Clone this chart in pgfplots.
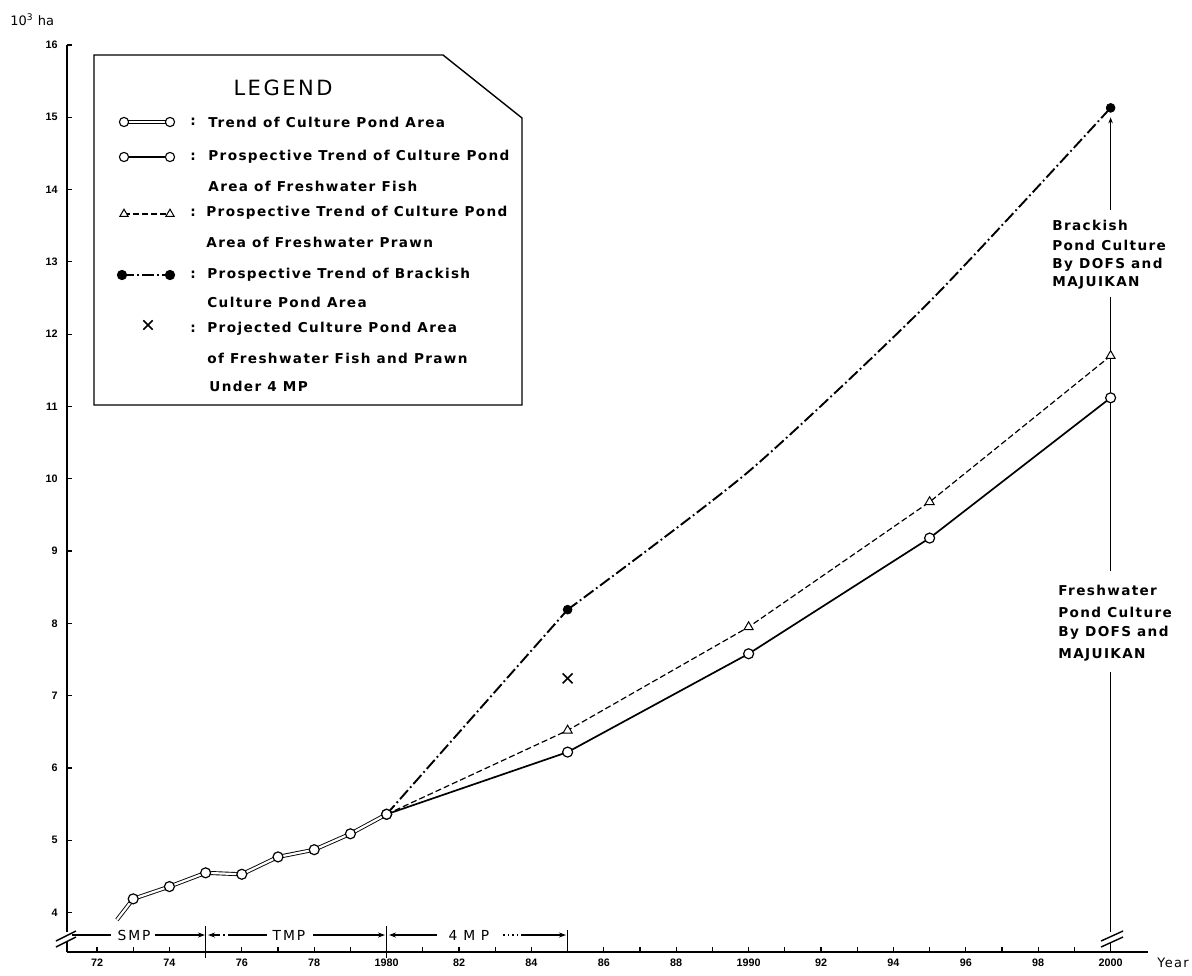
\documentclass[border=0pt]{standalone}
\usepackage{fontspec}
\setmainfont{DejaVu Sans}
\usepackage{pgfplots}
\pgfplotsset{compat=1.18}
\usepackage{pgfplotstable}
\usetikzlibrary{arrows.meta}
\newfontfamily\lgf[LetterSpace=10]{DejaVu Sans}
\newfontfamily\ttlf[LetterSpace=12]{DejaVu Sans}
\newfontfamily\perf[LetterSpace=14]{DejaVu Sans}
\newfontfamily\tkf{Liberation Sans}

\pgfplotstableread{
x y
1972.55 3.90
1973 4.19
1974 4.36
1975 4.55
1976 4.53
1977 4.77
1978 4.87
1979 5.09
1980 5.36
}\trend

\pgfplotstableread{
x y
1980 5.36
1985 6.22
1990 7.58
1995 9.18
2000 11.12
}\fish

\pgfplotstableread{
x y
1980 5.36
1985 6.52
1990 7.95
1995 9.68
2000 11.70
}\prawn

\pgfplotstableread{
x y
1980 5.36
1985 8.19
}\brackA

\pgfplotstableread{
x y
1985 8.19
1990 10.10
1995 12.45
2000 15.13
}\brackB

\begin{document}
\begin{tikzpicture}
\useasboundingbox (0,0) rectangle (596pt,487.5pt);
% ---------------- main axis ----------------
\begin{axis}[
  scale only axis, at={(33.5pt,11.5pt)}, anchor=south west,
  width=540.5pt, height=453.5pt,
  xmin=1971.171, xmax=2001.033, ymin=3.455, ymax=16,
  axis x line*=bottom, axis y line*=left,
  axis line style={line width=0.9pt, -},
  xtick={1972,1974,...,2000},
  xticklabels={72,74,76,78,1980,82,84,86,88,1990,92,94,96,98,2000},
  minor xtick={1973,1975,...,1999},
  ytick={4,5,...,16},
  yticklabels={4,5,6,7,8,9,10,11,12,13,14,15,16},
  tick align=inside, major tick length=2.5pt, minor tick length=2.5pt,
  tick style={line width=0.6pt, black},
  tick label style={font=\tkf\bfseries\fontsize{5.4}{6}\selectfont},
  xticklabel style={inner sep=0pt, anchor=north, yshift=-3.2pt},
  yticklabel style={inner sep=0pt, anchor=east, xshift=-4.5pt},
  clip=false,
]
% prospective brackish (dash-dot)
\addplot[black, line width=0.95pt, dash pattern=on 6pt off 1.6pt on 0.9pt off 1.6pt] table {\brackA};
\addplot[black, line width=0.95pt, smooth, tension=0.4, dash pattern=on 6pt off 1.6pt on 0.9pt off 1.6pt] table {\brackB};
\addplot[only marks, mark=*, mark size=2.2pt, mark indices={1,4}, mark options={fill=black, draw=black}] table {\brackB};
% prawn (dashed, triangles)
\addplot[black, line width=0.6pt, dash pattern=on 3pt off 1.5pt, mark=triangle*, mark size=2.6pt,
  mark indices={2,3,4,5}, mark options={solid, fill=white, draw=black, line width=0.5pt}] table {\prawn};
% fish (solid, circles)
\addplot[black, line width=0.85pt, mark=*, mark size=2.5pt,
  mark options={solid, fill=white, draw=black, line width=0.6pt}] table {\fish};
% projected X
\addplot[only marks, mark=x, mark size=3.5pt, mark options={line width=0.8pt, black}] coordinates {(1985,7.24)};
% trend of culture pond area (double line)
\addplot[black, line width=0.45pt, double=white, double distance=1.1pt] table {\trend};
\addplot[only marks, mark=*, mark size=2.5pt, mark indices={2,3,4,5,6,7,8,9}, mark options={fill=white, draw=black, line width=0.6pt}]
  table {\trend};
% vertical annotation line at 2000
\draw[line width=0.7pt, -{Stealth[length=3pt,width=2.2pt]}] (axis cs:2000,13.72) -- (axis cs:2000,15.0);
\draw[line width=0.7pt] (axis cs:2000,12.52) -- (axis cs:2000,8.72);
\draw[line width=0.7pt] (axis cs:2000,7.33) -- (axis cs:2000,3.455);
\end{axis}
% ---------------- overlay (pixel coordinates) ----------------
\begin{axis}[
  scale only axis, at={(0,0)}, anchor=south west,
  width=596pt, height=487.5pt,
  xmin=0, xmax=1192, ymin=0, ymax=975, y dir=reverse,
  hide axis, clip=false,
]
% axis breaks
\fill[white] (60,932) rectangle (75,942);
\draw[line width=0.7pt] (56,941) -- (76,931);
\draw[line width=0.7pt] (56,947) -- (76,937);
\fill[white] (1105,932) rectangle (1119,942);
\draw[line width=0.7pt] (1101,941) -- (1123,931);
\draw[line width=0.7pt] (1101,947) -- (1123,937);
% period markers
\draw[line width=0.6pt] (72,935) -- (111,935);
\node[font=\perf\fontsize{6.9}{8}\selectfont] at (134,935) {SMP};
\draw[line width=0.6pt, -{Stealth[length=3.5pt,width=2.5pt]}] (155,935) -- (205,935);
\draw[line width=0.8pt] (205.6,926) -- (205.6,958);
\draw[line width=0.6pt, {Stealth[length=3.5pt,width=2.5pt]}-, dash pattern=on 4pt off 1.5pt on 0.8pt off 1.5pt] (208,935) -- (236,935);
\draw[line width=0.6pt] (236,935) -- (267,935);
\node[font=\perf\fontsize{6.9}{8}\selectfont] at (289,935) {TMP};
\draw[line width=0.6pt, -{Stealth[length=3.5pt,width=2.5pt]}] (313,935) -- (385,935);
\draw[line width=0.8pt] (386.6,926) -- (386.6,958);
\draw[line width=0.6pt, {Stealth[length=3.5pt,width=2.5pt]}-] (389,935) -- (437,935);
\node[font=\lgf\fontsize{6.9}{8}\selectfont] at (469,935) {4 M P};
\draw[line width=0.6pt, dash pattern=on 0.8pt off 1.5pt] (503,935) -- (522,935);
\draw[line width=0.6pt, -{Stealth[length=3.5pt,width=2.5pt]}] (522,935) -- (566,935);
\draw[line width=0.8pt] (567.6,930) -- (567.6,953);
% axis captions
\node[anchor=west, inner sep=0pt, font=\fontsize{6.5}{8}\selectfont] at (10,20) {10\textsuperscript{3} ha};
\node[inner sep=0pt, font=\lgf\fontsize{6.5}{8}\selectfont] at (1173,963) {Year};
% legend box
\draw[line width=0.7pt] (94,55) -- (443,55) -- (522,118) -- (522,405) -- (94,405) -- cycle;
\node[font=\ttlf\fontsize{10.5}{12}\selectfont] at (283,88) {LEGEND};
% legend samples
\addplot[black, line width=0.4pt, double=white, double distance=1pt] coordinates {(124,122) (170,122)};
\addplot[only marks, mark=*, mark size=2.3pt, mark options={fill=white, draw=black, line width=0.55pt}] coordinates {(124,122) (170,122)};
\addplot[black, line width=0.8pt, mark=*, mark size=2.3pt, mark options={fill=white, draw=black, line width=0.55pt}] coordinates {(124,157) (170,157)};
\addplot[black, line width=0.6pt, dash pattern=on 3pt off 1.5pt, mark=triangle*, mark size=2.4pt, mark options={solid, fill=white, draw=black, line width=0.5pt}] coordinates {(124,214) (170,214)};
\addplot[black, line width=0.9pt, dash pattern=on 6pt off 1.6pt on 0.9pt off 1.6pt, mark=*, mark size=2.1pt, mark options={solid, fill=black}] coordinates {(122,275) (170,275)};
\addplot[only marks, mark=x, mark size=3.3pt, mark options={line width=0.8pt, black}] coordinates {(148,325)};
% legend texts
\begin{scope}[every node/.style={anchor=west, inner sep=0pt, font=\lgf\bfseries\fontsize{6.8}{8}\selectfont}]
\node at (190,122) {:};
\node at (190,157) {:};
\node at (190,213) {:};
\node at (190,275) {:};
\node at (190,329) {:};
\node at (208,122) {Trend of Culture Pond Area};
\node at (208,157) {Prospective Trend of Culture Pond};
\node at (208,186) {Area of Freshwater Fish};
\node at (206,213) {Prospective Trend of Culture Pond};
\node at (206,242) {Area of Freshwater Prawn};
\node at (207,275) {Prospective Trend of Brackish};
\node at (207,302) {Culture Pond Area};
\node at (207,329) {Projected Culture Pond Area};
\node at (207,358) {of Freshwater Fish and Prawn};
\node at (209,386) {Under 4 MP};
% right side annotations
\node at (1052,225) {Brackish};
\node at (1052,245) {Pond Culture};
\node at (1052,265) {By DOFS and};
\node at (1052,283) {MAJUIKAN};
\node at (1058,590) {Freshwater};
\node at (1058,612) {Pond Culture};
\node at (1058,633) {By DOFS and};
\node at (1058,655) {MAJUIKAN};
\end{scope}
\end{axis}
\end{tikzpicture}
\end{document}
